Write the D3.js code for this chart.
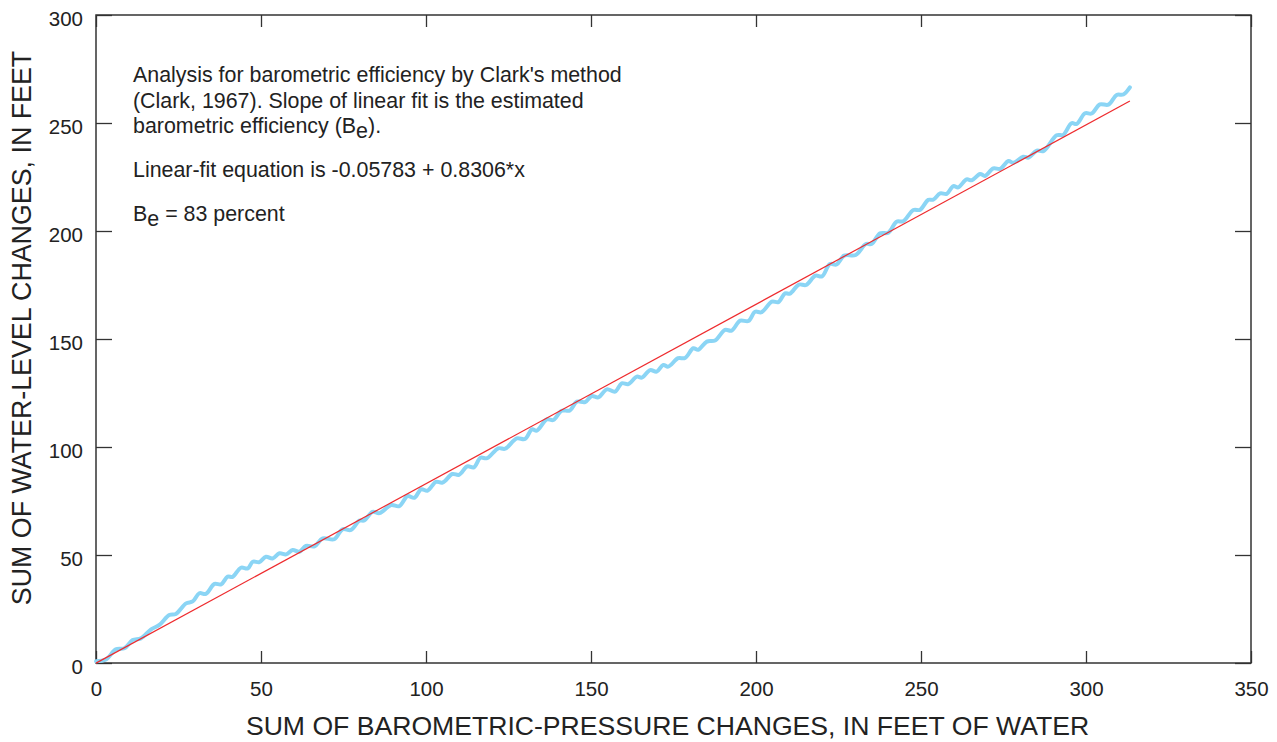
<!DOCTYPE html>
<html>
<head>
<meta charset="utf-8">
<script src="https://cdn.jsdelivr.net/npm/d3@7"></script>
<style>
  body { margin: 0; background: #fff; }
  svg { display: block; font-family: "Liberation Sans", Arial, Helvetica, sans-serif; }
  .tick text { fill: #222; }
</style>
</head>
<body>
<svg id="chart" width="1277" height="742"></svg>
<script>
// sum of barometric-pressure changes (feet of water)
var sumPressure = [
  0, 3, 6, 8.6, 11.1, 13.6, 16.7, 19.2, 22.2, 24.2, 27.3, 29.3, 31.3, 33.3, 35.9, 37.9,
  39.9, 41.4, 43.9, 46, 47.5, 49.5, 51.5, 53.5, 55.6, 57.6, 59.6, 61.6, 63.6, 66.2,
  68.7, 72.2, 74.7, 77.3, 79.8, 81.3, 83.8, 85.9, 89.4, 91.9, 94.4, 96.5, 98.5, 100.5,
  103, 105, 108, 110, 112.5, 114.5, 116.5, 118.5, 121.9, 124, 127.5, 130, 132.1, 133.6,
  136.6, 138.6, 141.1, 143.6, 145.7, 148.2, 150.2, 152.2, 154.8, 157.3, 159.3, 161.3,
  163.9, 165.4, 167.9, 169.9, 171.9, 173.4, 176.4, 178.5, 181, 182.5, 185.1, 187.6,
  190.6, 192.6, 195.2, 197.7, 199.7, 201.7, 204.8, 206.8, 208.8, 210.3, 213, 215.2,
  218, 220, 222.4, 224.4, 226.7, 230.2, 233.3, 235, 237.6, 240.1, 242.6, 244.6, 247.7,
  249.7, 252.2, 253.7, 255.8, 257.8, 259.8, 261.3, 263.8, 265.4, 267.9, 269.4, 271.9,
  274, 276.5, 278, 281, 282.6, 285.1, 287.1, 291.1, 293.1, 295.6, 297.2, 299.7, 301.7,
  304.2, 306.8, 309.3, 311.3, 313.3
];
// sum of water-level changes (feet), same points
var sumWater = [
  0.8, 1.6, 6.3, 6.8, 10.6, 11.4, 15.6, 17.6, 22.2, 22.7, 27.6, 28.5, 32.3, 32, 36.6, 36.4,
  40, 39.9, 44.1, 43.8, 46.9, 46.7, 49.2, 48.4, 50.8, 50.3, 52.3, 51.5, 54.2, 54,
  57.7, 57.3, 61.9, 61.6, 65.9, 66, 70, 69.4, 73.1, 72.6, 77.3, 76.5, 80.4, 79.8,
  83.9, 83.5, 87.5, 87.1, 91, 90.6, 95, 94.8, 99.4, 99.2, 104, 103.7, 108.2, 107.6,
  112.8, 112.5, 116.8, 116.9, 121, 120.8, 123.6, 123, 126.7, 125.6, 129.5, 129.1,
  132.6, 132.1, 135.6, 134.9, 138, 137.2, 141.1, 141.2, 145.7, 145, 148.8, 149.3,
  154.2, 153.9, 158.5, 158.3, 162.6, 162.4, 167.3, 167.1, 171.1, 171, 175.2, 175,
  179.3, 179, 184.7, 184.5, 188.6, 188.9, 194, 194, 198.9, 199.2, 204.3, 204.5, 209.7,
  209.8, 214.4, 214.5, 217.4, 217.2, 220.8, 220.2, 223.9, 223.5, 226.4, 225.5, 229,
  228.8, 232.4, 231.6, 234.4, 234, 237.2, 237, 244.3, 244.5, 249.9, 249.6, 254.5, 254.4,
  258.6, 258.5, 263, 263.2, 266.5
];

// linear fit (from the note on the chart)
var fitIntercept = -0.05783;
var fitSlope = 0.8306;
var fitRange = [0, 313.3];

var xTicks = [0, 50, 100, 150, 200, 250, 300, 350];
var yTicks = [0, 50, 100, 150, 200, 250, 300];

var xTitle = "SUM OF BAROMETRIC-PRESSURE CHANGES, IN FEET OF WATER";
var yTitle = "SUM OF WATER-LEVEL CHANGES, IN FEET";

(function() {
  var svg = d3.select("#chart");
  var margin = {top: 15, right: 26, bottom: 79, left: 96};
  var width = +svg.attr("width") - margin.left - margin.right,
      height = +svg.attr("height") - margin.top - margin.bottom;

  var x = d3.scaleLinear().domain([0, 350]).range([0, width]);
  var y = d3.scaleLinear().domain([0, 300]).range([height, 0]);

  var g = svg.append("g")
    .attr("transform", "translate(" + margin.left + "," + margin.top + ")");

  // axes, ticks pointing inwards
  g.append("g")
    .attr("transform", "translate(0," + height + ")")
    .call(d3.axisBottom(x).tickValues(xTicks).tickSizeInner(-12).tickSizeOuter(0).tickPadding(18))
    .call(styleAxis);
  g.append("g")
    .call(d3.axisTop(x).tickValues(xTicks).tickSizeInner(-12).tickSizeOuter(0).tickFormat(""))
    .call(styleAxis);
  g.append("g")
    .call(d3.axisLeft(y).tickValues(yTicks).tickSizeInner(-16).tickSizeOuter(0).tickPadding(13))
    .call(styleAxis)
    .selectAll(".tick text").attr("dy", "0.5em");
  g.append("g")
    .attr("transform", "translate(" + width + ",0)")
    .call(d3.axisRight(y).tickValues(yTicks).tickSizeInner(-16).tickSizeOuter(0).tickFormat(""))
    .call(styleAxis);

  function styleAxis(sel) {
    sel.select(".domain").remove();
    sel.selectAll(".tick line").attr("stroke", "#333").attr("stroke-width", 1.3);
    sel.selectAll(".tick text").attr("font-size", 20.5).attr("font-family", null);
  }

  g.append("rect")
    .attr("width", width)
    .attr("height", height)
    .attr("fill", "none")
    .attr("stroke", "#333")
    .attr("stroke-width", 1.5);

  // data curve
  var points = sumPressure.map(function(d, i) { return [d, sumWater[i]]; });
  var line = d3.line()
    .x(function(d) { return x(d[0]); })
    .y(function(d) { return y(d[1]); })
    .curve(d3.curveCatmullRom.alpha(0.5));

  g.append("path")
    .datum(points)
    .attr("d", line)
    .attr("fill", "none")
    .attr("stroke", "#8bd5f5")
    .attr("stroke-width", 4)
    .attr("stroke-linejoin", "round")
    .attr("stroke-linecap", "round");

  // linear fit
  var fit = fitRange.map(function(v) { return [v, fitIntercept + fitSlope * v]; });
  g.append("path")
    .datum(fit)
    .attr("d", d3.line().x(function(d) { return x(d[0]); }).y(function(d) { return y(d[1]); }))
    .attr("fill", "none")
    .attr("stroke", "#ee2b2e")
    .attr("stroke-width", 1.2);

  // note
  var note = svg.append("g").attr("font-size", 21.4).attr("fill", "#222");
  note.append("text").attr("x", 133).attr("y", 82)
    .text("Analysis for barometric efficiency by Clark's method");
  note.append("text").attr("x", 133).attr("y", 107.5)
    .text("(Clark, 1967). Slope of linear fit is the estimated");
  var l3 = note.append("text").attr("x", 133).attr("y", 133);
  l3.append("tspan").text("barometric efficiency (B");
  l3.append("tspan").attr("dy", 5).text("e");
  l3.append("tspan").attr("dy", -5).text(").");
  note.append("text").attr("x", 133).attr("y", 177)
    .text("Linear-fit equation is -0.05783 + 0.8306*x");
  var l5 = note.append("text").attr("x", 133).attr("y", 221);
  l5.append("tspan").text("B");
  l5.append("tspan").attr("dy", 5).text("e");
  l5.append("tspan").attr("dy", -5).text(" = 83 percent");

  // axis titles
  svg.append("text")
    .attr("x", margin.left + width / 2 - 6)
    .attr("y", 735)
    .attr("text-anchor", "middle")
    .attr("font-size", 26.6)
    .attr("fill", "#222")
    .text(xTitle);
  svg.append("text")
    .attr("transform", "translate(31,328) rotate(-90)")
    .attr("text-anchor", "middle")
    .attr("font-size", 26.8)
    .attr("fill", "#222")
    .text(yTitle);
})();
</script>
</body>
</html>
